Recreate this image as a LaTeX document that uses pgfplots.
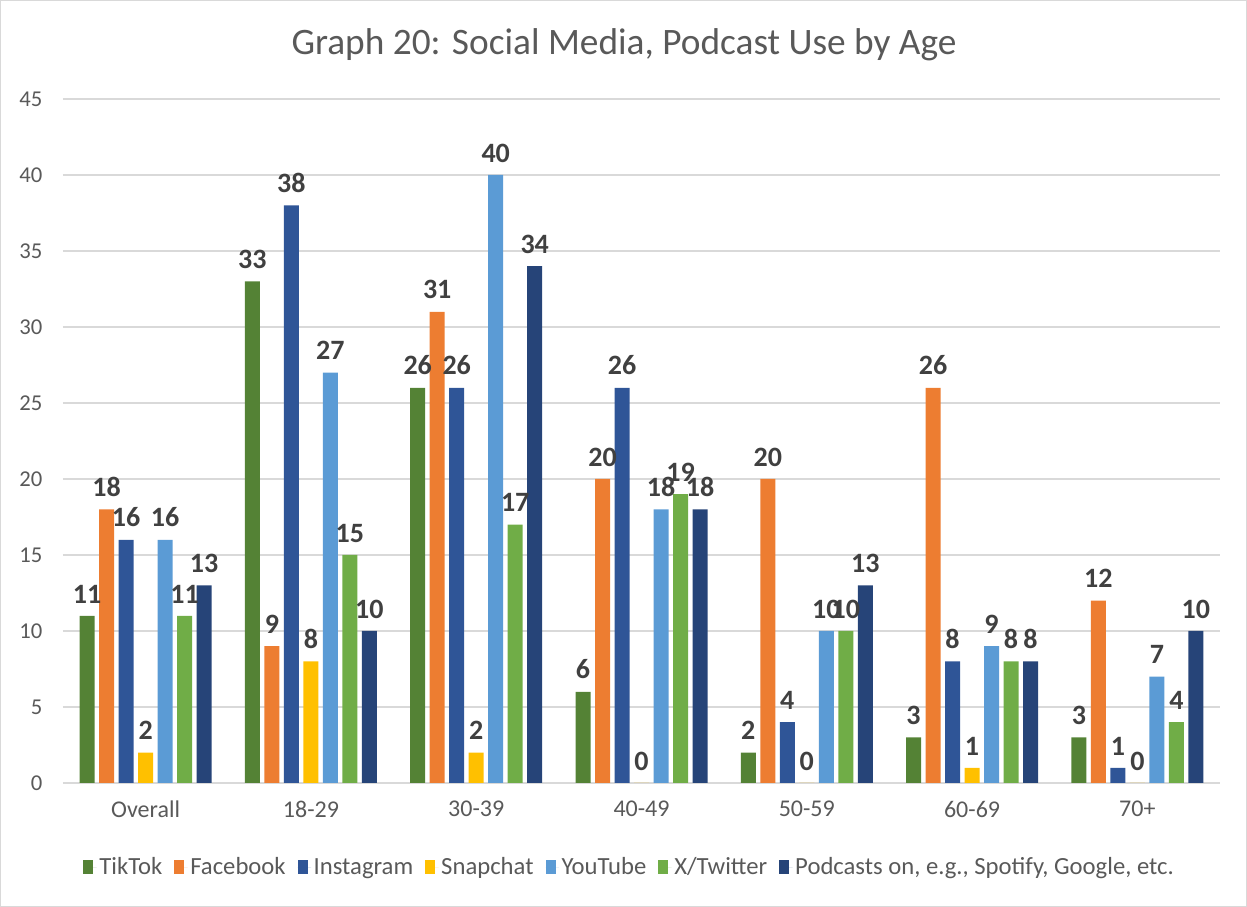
\documentclass[border=0pt]{standalone}
\usepackage{pgfplots}
\pgfplotsset{compat=1.18}
\usepackage{fontspec}
\setmainfont{Carlito}
\definecolor{cTik}{HTML}{548235}
\definecolor{cFb}{HTML}{ED7D31}
\definecolor{cIg}{HTML}{2F5597}
\definecolor{cSc}{HTML}{FFC000}
\definecolor{cYt}{HTML}{5B9BD5}
\definecolor{cX}{HTML}{70AD47}
\definecolor{cPod}{HTML}{264478}
\definecolor{gridc}{HTML}{D9D9D9}
\definecolor{txt}{HTML}{595959}
\definecolor{lbl}{HTML}{404040}
\begin{document}
\begin{tikzpicture}
\begin{axis}[
  at={(0,0)}, anchor=south west,
  scale only axis,
  width=867.75pt, height=513pt,
  xmin=-0.5, xmax=6.5,
  ymin=0, ymax=45,
  ytick={0,5,...,45},
  xtick={0,...,6},
  xticklabels={Overall,18-29,30-39,40-49,50-59,60-69,70+},
  ybar=3.375pt,
  bar width=11.25pt,
  axis x line*=bottom,
  axis y line*=left,
  y axis line style={draw=none},
  x axis line style={draw=gridc, line width=1pt},
  ymajorgrids,
  grid style={draw=gridc, line width=1pt},
  major tick length=0pt,
  tick style={draw=none},
  /pgf/number format/assume math mode=true,
  yticklabel style={font=\fontsize{17}{20}\selectfont, text=txt, xshift=-12pt},
  xticklabel style={font=\fontsize{18}{21}\selectfont, text=txt, yshift=-10pt},
  nodes near coords,
  every node near coord/.append style={font=\fontsize{21}{24}\selectfont\bfseries, text=lbl, yshift=6pt},
  legend style={draw=none, fill=none, at={(0.49,-0.123)}, anchor=center,
    font=\fontsize{18.5}{21}\selectfont, text=txt, /tikz/every even column/.append style={column sep=7pt}},
  legend columns=-1,
  legend image code/.code={\fill[#1] (0pt,-5.5pt) rectangle (7.5pt,5.5pt); \path (0pt,0pt) -- (10pt,0pt);},
  enlargelimits=false,
  clip=false,
]
\addplot[fill=cTik, draw=none] coordinates {(0,11) (1,33) (2,26) (3,6) (4,2) (5,3) (6,3)};
\addplot[fill=cFb, draw=none] coordinates {(0,18) (1,9) (2,31) (3,20) (4,20) (5,26) (6,12)};
\addplot[fill=cIg, draw=none] coordinates {(0,16) (1,38) (2,26) (3,26) (4,4) (5,8) (6,1)};
\addplot[fill=cSc, draw=none] coordinates {(0,2) (1,8) (2,2) (3,0) (4,0) (5,1) (6,0)};
\addplot[fill=cYt, draw=none] coordinates {(0,16) (1,27) (2,40) (3,18) (4,10) (5,9) (6,7)};
\addplot[fill=cX, draw=none] coordinates {(0,11) (1,15) (2,17) (3,19) (4,10) (5,8) (6,4)};
\addplot[fill=cPod, draw=none] coordinates {(0,13) (1,10) (2,34) (3,18) (4,13) (5,8) (6,10)};
\legend{TikTok,Facebook,Instagram,Snapchat,YouTube,X/Twitter,{Podcasts on, e.g., Spotify, Google, etc.}}
\end{axis}
\node[font=\fontsize{28}{33}\selectfont, text=txt] at (420.75pt,553.5pt) {Graph 20: Social Media, Podcast Use by Age};
\pgfresetboundingbox
\draw[gridc, line width=1pt] (-46.75pt,-92.5pt) rectangle (887.5pt,586.75pt);
\path (-47.25pt,-93pt) rectangle (888pt,587.25pt);
\end{tikzpicture}
\end{document}
